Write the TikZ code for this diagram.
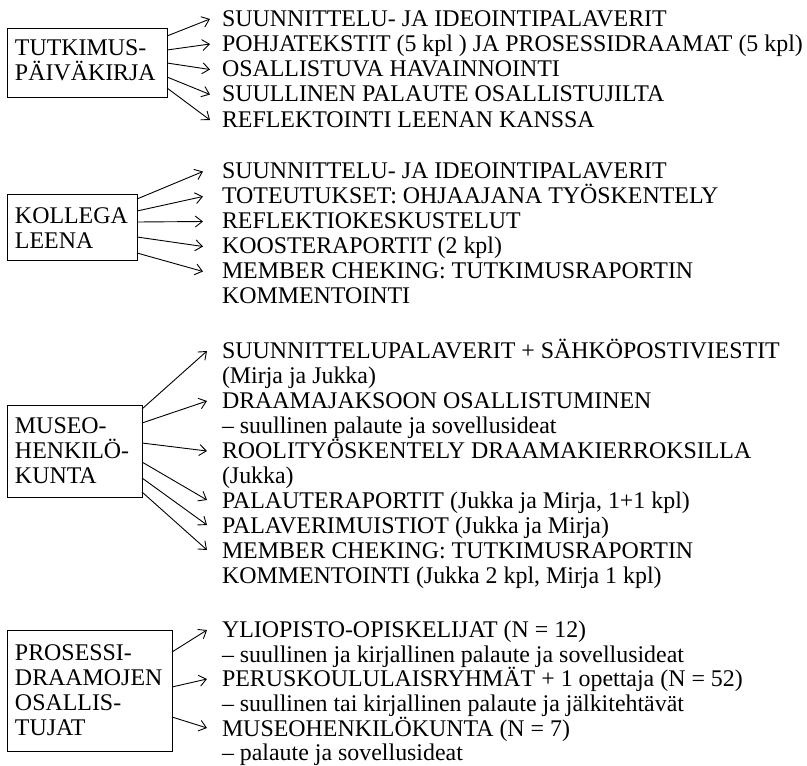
\documentclass[tikz,border=0pt]{standalone}
\usepackage{fontspec}
\setmainfont{Liberation Serif}
\usetikzlibrary{arrows.meta,calc}
\begin{document}
\begin{tikzpicture}[x=1pt,y=-1pt,
  every node/.style={inner sep=0pt, outer sep=0pt},
  txt/.style={anchor=base west, font=\fontsize{23.9}{25}\selectfont},
  frame/.style={draw, line width=1pt, anchor=north west},
  arr/.style={line width=0.9pt, -{Straight Barb[length=7pt,width=11pt,line width=0.9pt]}}
]
\useasboundingbox (0,0) rectangle (807,766);

% ---------- source boxes ----------
\node[frame, minimum width=160pt, minimum height=69pt]  (b1) at (7,28)  {};
\node[frame, minimum width=130pt, minimum height=66pt]  (b2) at (7,194) {};
\node[frame, minimum width=135pt, minimum height=92pt]  (b3) at (7,405) {};
\node[frame, minimum width=165pt, minimum height=121pt] (b4) at (7,630) {};

\node[txt] (b1t1) at (15,55.5) {TUTKIMUS-};
\node[txt] (b1t2) at (15,80.5) {PÄIVÄKIRJA};

\node[txt] (b2t1) at (15,223) {KOLLEGA};
\node[txt] (b2t2) at (15,248) {LEENA};

\node[txt] (b3t1) at (15,433) {MUSEO-};
\node[txt] (b3t2) at (15,458) {HENKILÖ-};
\node[txt] (b3t3) at (15,483) {KUNTA};

\node[txt] (b4t1) at (15,660) {PROSESSI-};
\node[txt] (b4t2) at (15,685) {DRAAMOJEN};
\node[txt] (b4t3) at (15,710) {OSALLIS-};
\node[txt] (b4t4) at (15,735) {TUJAT};

% ---------- group 1 ----------
\node[txt] (g1a) at (222,26)    {SUUNNITTELU- JA IDEOINTIPALAVERIT};
\node[txt] (g1b) at (222,51)    {POHJATEKSTIT (5 kpl ) JA PROSESSIDRAAMAT (5 kpl)};
\node[txt] (g1c) at (222,76.5)  {OSALLISTUVA HAVAINNOINTI};
\node[txt] (g1d) at (222,101.5) {SUULLINEN PALAUTE OSALLISTUJILTA};
\node[txt] (g1e) at (222,127)   {REFLEKTOINTI LEENAN KANSSA};

\draw[arr] ($(b1.north east)+(0,8)$)  -- ($(g1a.base west)+(-12,-7)$);
\draw[arr] ($(b1.north east)+(0,22)$) -- ($(g1b.base west)+(-12,-7)$);
\draw[arr] ($(b1.north east)+(0,35)$) -- ($(g1c.base west)+(-12,-7)$);
\draw[arr] ($(b1.north east)+(0,49)$) -- ($(g1d.base west)+(-12,-7)$);
\draw[arr] ($(b1.north east)+(0,60)$) -- ($(g1e.base west)+(-12,-7)$);

% ---------- group 2 ----------
\node[txt] (g2a) at (222,178) {SUUNNITTELU- JA IDEOINTIPALAVERIT};
\node[txt] (g2b) at (222,203) {TOTEUTUKSET: OHJAAJANA TYÖSKENTELY};
\node[txt] (g2c) at (222,228) {REFLEKTIOKESKUSTELUT};
\node[txt] (g2d) at (222,253) {KOOSTERAPORTIT (2 kpl)};
\node[txt] (g2e) at (222,278) {MEMBER CHEKING: TUTKIMUSRAPORTIN};
\node[txt] (g2f) at (222,303) {KOMMENTOINTI};

\draw[arr] ($(b2.north east)+(0,5)$)  -- ($(g2a.base west)+(-19,-6.5)$);
\draw[arr] ($(b2.north east)+(0,17)$) -- ($(g2b.base west)+(-19,-6.5)$);
\draw[arr] ($(b2.north east)+(0,28)$) -- ($(g2c.base west)+(-19,-6.5)$);
\draw[arr] ($(b2.north east)+(0,43)$) -- ($(g2d.base west)+(-19,-6.5)$);
\draw[arr] ($(b2.north east)+(0,59)$) -- ($(g2e.base west)+(-19,-6.5)$);

% ---------- group 3 ----------
\node[txt] (g3a) at (222,358) {SUUNNITTELUPALAVERIT + SÄHKÖPOSTIVIESTIT};
\node[txt] (g3b) at (222,383) {(Mirja ja Jukka)};
\node[txt] (g3c) at (222,408) {DRAAMAJAKSOON OSALLISTUMINEN};
\node[txt] (g3d) at (222,433) {– suullinen palaute ja sovellusideat};
\node[txt] (g3e) at (222,458) {ROOLITYÖSKENTELY DRAAMAKIERROKSILLA};
\node[txt] (g3f) at (222,483) {(Jukka)};
\node[txt] (g3g) at (222,508) {PALAUTERAPORTIT (Jukka ja Mirja, 1+1 kpl)};
\node[txt] (g3h) at (222,533) {PALAVERIMUISTIOT (Jukka ja Mirja)};
\node[txt] (g3i) at (222,558) {MEMBER CHEKING: TUTKIMUSRAPORTIN};
\node[txt] (g3j) at (222,583) {KOMMENTOINTI (Jukka 2 kpl, Mirja 1 kpl)};

\draw[arr] ($(b3.north east)+(0,4)$)  -- ($(g3a.base west)+(-15,-7)$);
\draw[arr] ($(b3.north east)+(0,18)$) -- ($(g3c.base west)+(-15,-7)$);
\draw[arr] ($(b3.north east)+(0,38)$) -- ($(g3e.base west)+(-15,-7)$);
\draw[arr] ($(b3.north east)+(0,57)$) -- ($(g3g.base west)+(-15,-8)$);
\draw[arr] ($(b3.north east)+(0,73)$) -- ($(g3h.base west)+(-15,-8)$);
\draw[arr] ($(b3.north east)+(0,87)$) -- ($(g3i.base west)+(-15,-8)$);

% ---------- group 4 ----------
\node[txt] (g4a) at (222,637) {YLIOPISTO-OPISKELIJAT (N = 12)};
\node[txt] (g4b) at (222,662) {– suullinen ja kirjallinen palaute ja sovellusideat};
\node[txt] (g4c) at (222,686) {PERUSKOULULAISRYHMÄT + 1 opettaja (N = 52)};
\node[txt] (g4d) at (222,711) {– suullinen tai kirjallinen palaute ja jälkitehtävät};
\node[txt] (g4e) at (222,736) {MUSEOHENKILÖKUNTA (N = 7)};
\node[txt] (g4f) at (222,760) {– palaute ja sovellusideat};

\draw[arr] ($(b4.north east)+(0,22)$) -- ($(g4a.base west)+(-15,-7)$);
\draw[arr] ($(b4.north east)+(0,57)$) -- ($(g4c.base west)+(-15,-7)$);
\draw[arr] ($(b4.north east)+(0,87)$) -- ($(g4e.base west)+(-15,-8)$);
\end{tikzpicture}
\end{document}
